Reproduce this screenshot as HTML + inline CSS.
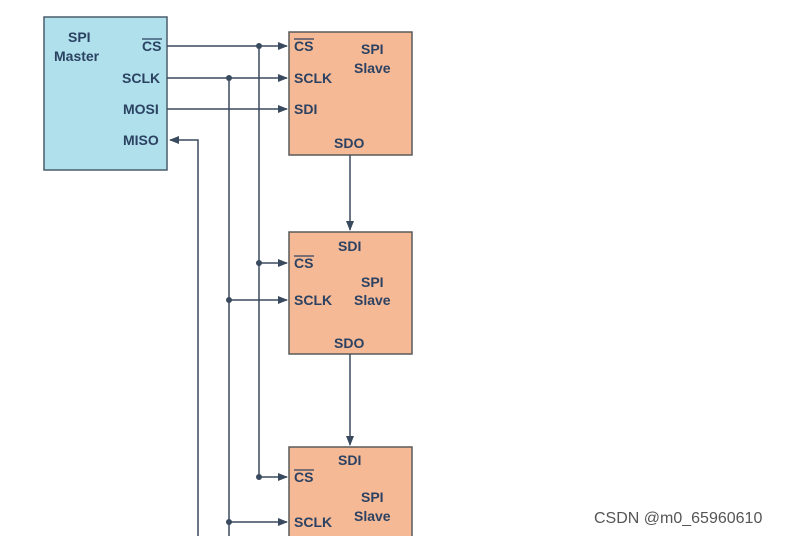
<!DOCTYPE html>
<html><head><meta charset="utf-8"><style>
html,body{margin:0;padding:0;background:#fff;width:785px;height:536px;overflow:hidden}
text{font-family:"Liberation Sans",sans-serif;font-weight:bold;font-size:14px;fill:#2c4262}
</style></head><body>
<svg width="785" height="536" viewBox="0 0 785 536" xmlns="http://www.w3.org/2000/svg">
<defs><marker id="a" markerWidth="10" markerHeight="8" refX="9" refY="4" orient="auto" markerUnits="userSpaceOnUse"><path d="M0,0L10,4L0,8z" fill="#3a4a5e"/></marker></defs>
<rect x="44" y="17" width="123" height="153" fill="#afe0eb" stroke="#4a5d6c" stroke-width="1.5"/>
<rect x="289" y="32" width="123" height="123" fill="#f6b995" stroke="#5a5a5a" stroke-width="1.5"/>
<rect x="289" y="232" width="123" height="122" fill="#f6b995" stroke="#5a5a5a" stroke-width="1.5"/>
<rect x="289" y="447" width="123" height="100" fill="#f6b995" stroke="#5a5a5a" stroke-width="1.5"/>
<g stroke="#3a4a5e" stroke-width="1.5" fill="none">
<line x1="167" y1="46" x2="287" y2="46" marker-end="url(#a)"/>
<line x1="167" y1="78" x2="287" y2="78" marker-end="url(#a)"/>
<line x1="167" y1="109" x2="287" y2="109" marker-end="url(#a)"/>
<polyline points="198,536 198,140 170,140" marker-end="url(#a)"/>
<line x1="229" y1="78" x2="229" y2="536"/>
<line x1="259" y1="46" x2="259" y2="477"/>
<line x1="259" y1="263" x2="287" y2="263" marker-end="url(#a)"/>
<line x1="229" y1="300" x2="287" y2="300" marker-end="url(#a)"/>
<line x1="259" y1="477" x2="287" y2="477" marker-end="url(#a)"/>
<line x1="229" y1="522" x2="287" y2="522" marker-end="url(#a)"/>
<line x1="350" y1="155" x2="350" y2="230" marker-end="url(#a)"/>
<line x1="350" y1="354" x2="350" y2="445" marker-end="url(#a)"/>
</g>
<g fill="#3a4a5e">
<circle cx="259" cy="46" r="3"/><circle cx="229" cy="78" r="3"/>
<circle cx="259" cy="263" r="3"/><circle cx="229" cy="300" r="3"/>
<circle cx="259" cy="477" r="3"/><circle cx="229" cy="522" r="3"/>
</g>
<text x="68" y="42">SPI</text><text x="54" y="61">Master</text>
<text x="142" y="51">CS</text><line x1="142" y1="39" x2="162" y2="39" stroke="#2c4262" stroke-width="1.2"/>
<text x="122" y="83">SCLK</text><text x="123" y="114">MOSI</text><text x="123" y="145">MISO</text>
<text x="294" y="51">CS</text><line x1="294" y1="39" x2="314" y2="39" stroke="#2c4262" stroke-width="1.2"/>
<text x="294" y="83">SCLK</text><text x="294" y="114">SDI</text>
<text x="361" y="54">SPI</text><text x="354" y="73">Slave</text><text x="334" y="148">SDO</text>
<text x="338" y="251">SDI</text>
<text x="294" y="268">CS</text><line x1="294" y1="256" x2="314" y2="256" stroke="#2c4262" stroke-width="1.2"/>
<text x="294" y="305">SCLK</text>
<text x="361" y="287">SPI</text><text x="354" y="305">Slave</text><text x="334" y="348">SDO</text>
<text x="338" y="465">SDI</text>
<text x="294" y="482">CS</text><line x1="294" y1="470" x2="314" y2="470" stroke="#2c4262" stroke-width="1.2"/>
<text x="294" y="527">SCLK</text>
<text x="361" y="502">SPI</text><text x="354" y="521">Slave</text>
<text x="594" y="523" style="font-weight:normal;font-size:16px;fill:#555">CSDN @m0_65960610</text>
</svg>
</body></html>
